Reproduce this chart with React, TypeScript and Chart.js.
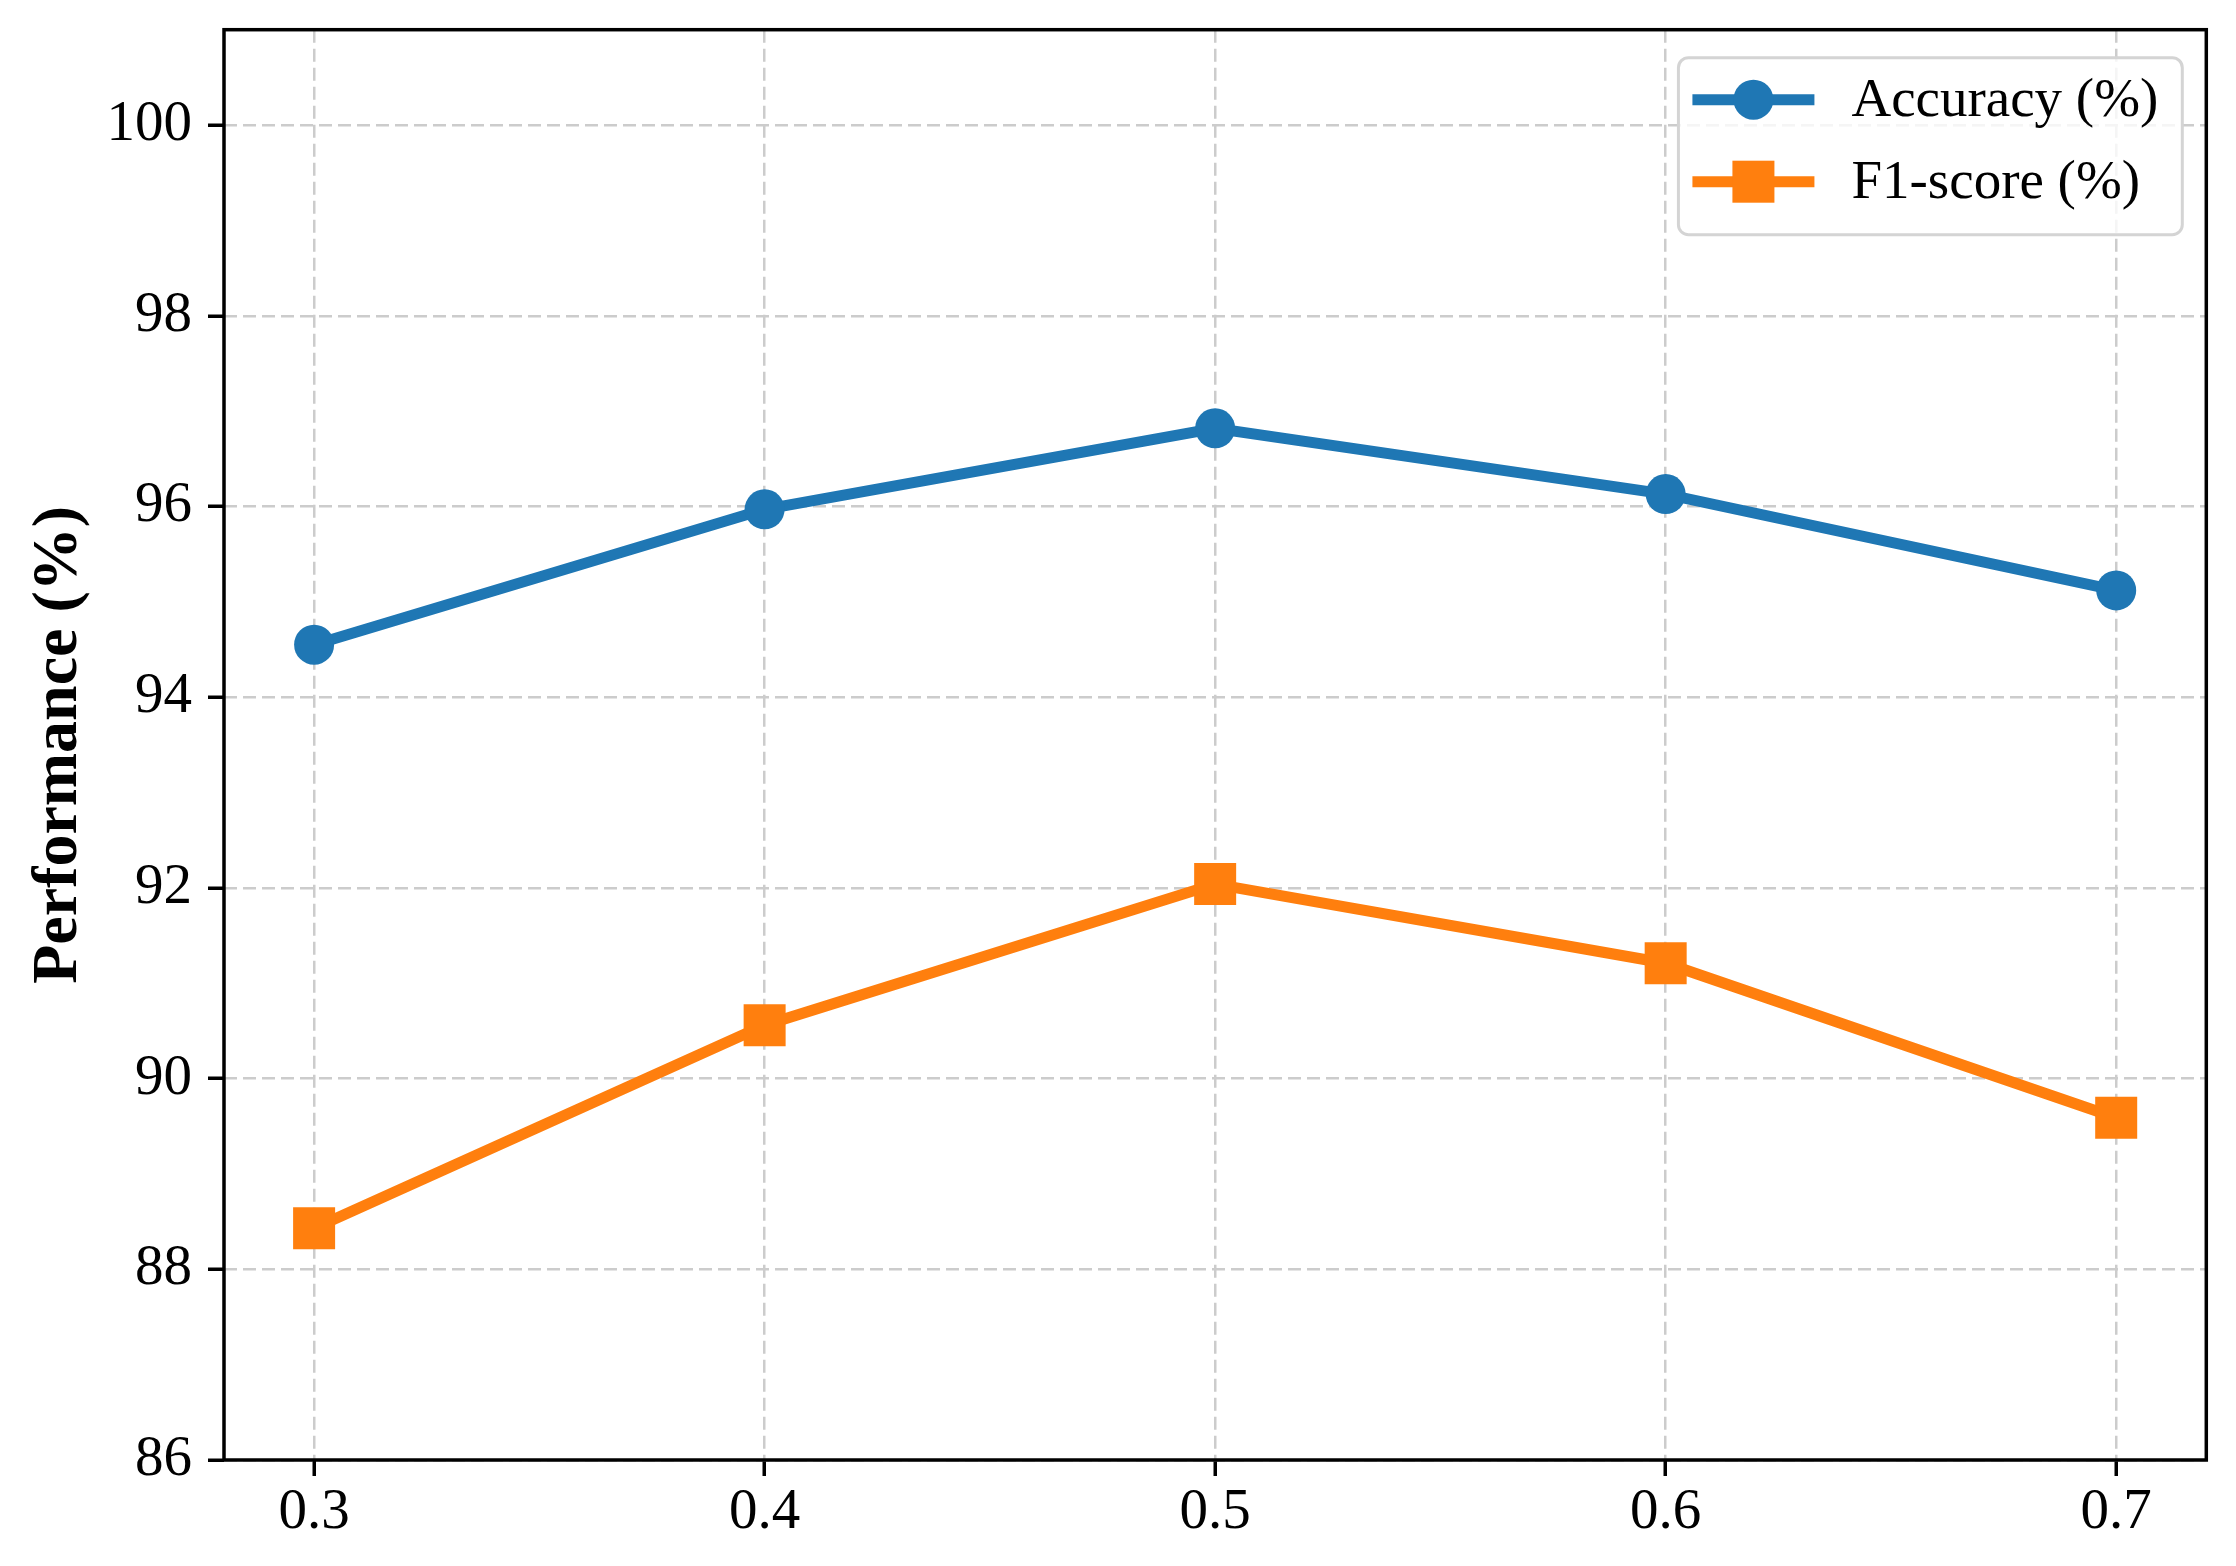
import React, { useEffect, useRef } from "react";
import { Chart, registerables } from "chart.js";

Chart.register(...registerables);

// ---- data ----
const thresholds = [0.3, 0.4, 0.5, 0.6, 0.7];
const accuracy = [94.55, 95.97, 96.82, 96.13, 95.12];
const f1Score = [88.43, 90.56, 92.04, 91.21, 89.59];
const yTickValues = [86, 88, 90, 92, 94, 96, 98, 100];
const seriesLabels = ["Accuracy (%)", "F1-score (%)"];
const yTitle = "Performance (%)";

// ---- style ----
const W = 2236;
const H = 1566;
const FONT = '"Liberation Serif", "Times New Roman", Times, serif';
const BLUE = "#1f77b4";
const ORANGE = "#ff7f0e";

const framePlugin = {
  id: "frame",
  afterDatasetsDraw(chart: any) {
    const { ctx, chartArea: a } = chart;
    ctx.save();
    ctx.strokeStyle = "#000";
    ctx.lineWidth = 3.5;
    ctx.strokeRect(a.left, a.top, a.right - a.left, a.bottom - a.top);
    ctx.restore();
  },
};

const legendPlugin = {
  id: "insideLegend",
  afterDraw(chart: any) {
    const { ctx, chartArea: a } = chart;
    const fontSize = 55;
    ctx.save();
    ctx.font = `${fontSize}px ${FONT}`;
    const items = chart.data.datasets.map((ds: any) => ({
      label: ds.label,
      color: ds.borderColor,
      style: ds.pointStyle,
    }));
    const maxW = Math.max(...items.map((it: any) => ctx.measureText(it.label).width));
    const padL = 14;
    const handleLen = 122;
    const gap = 37;
    const padR = 24;
    const boxW = padL + handleLen + gap + maxW + padR;
    const boxRight = a.right - 24;
    const boxLeft = boxRight - boxW;
    const boxTop = a.top + 28;
    const boxH = 177;
    const rowH = 82;

    ctx.beginPath();
    (ctx as any).roundRect(boxLeft, boxTop, boxW, boxH, 10);
    ctx.fillStyle = "rgba(255,255,255,0.8)";
    ctx.fill();
    ctx.strokeStyle = "#d4d4d4";
    ctx.lineWidth = 3;
    ctx.stroke();

    items.forEach((it: any, i: number) => {
      const cy = boxTop + 42 + i * rowH;
      const x0 = boxLeft + padL;
      const x1 = x0 + handleLen;
      const cx = (x0 + x1) / 2;
      ctx.strokeStyle = it.color;
      ctx.lineWidth = 11;
      ctx.beginPath();
      ctx.moveTo(x0, cy);
      ctx.lineTo(x1, cy);
      ctx.stroke();
      ctx.fillStyle = it.color;
      if (it.style === "rect") {
        const half = 21;
        ctx.fillRect(cx - half, cy - half, 2 * half, 2 * half);
      } else {
        ctx.beginPath();
        ctx.arc(cx, cy, 20, 0, Math.PI * 2);
        ctx.fill();
      }
      ctx.fillStyle = "#000";
      ctx.textAlign = "left";
      ctx.textBaseline = "middle";
      ctx.fillText(it.label, x1 + gap, cy + 2);
    });
    ctx.restore();
  },
};

function zeroPadding(scale: any) {
  scale.paddingTop = 0;
  scale.paddingBottom = 0;
  scale.paddingLeft = 0;
  scale.paddingRight = 0;
}

export default function App() {
  const canvasRef = useRef<HTMLCanvasElement | null>(null);

  useEffect(() => {
    const canvas = canvasRef.current;
    if (!canvas) return;
    const chart = new Chart(canvas, {
      type: "line",
      data: {
        datasets: [
          {
            label: seriesLabels[0],
            data: thresholds.map((x, i) => ({ x, y: accuracy[i] })),
            borderColor: BLUE,
            backgroundColor: BLUE,
            borderWidth: 11,
            pointStyle: "circle",
            pointRadius: 20,
            pointBorderWidth: 0,
            pointBackgroundColor: BLUE,
            fill: false,
            tension: 0,
          },
          {
            label: seriesLabels[1],
            data: thresholds.map((x, i) => ({ x, y: f1Score[i] })),
            borderColor: ORANGE,
            backgroundColor: ORANGE,
            borderWidth: 11,
            pointStyle: "rect",
            pointRadius: 29.7,
            pointBorderWidth: 0,
            pointBackgroundColor: ORANGE,
            fill: false,
            tension: 0,
          },
        ],
      },
      options: {
        animation: false,
        responsive: false,
        devicePixelRatio: 1,
        layout: { padding: { left: 0, top: 25, right: 24, bottom: 0 } },
        plugins: {
          legend: { display: false },
          tooltip: { enabled: false },
        },
        scales: {
          x: {
            type: "linear",
            min: 0.28,
            max: 0.72,
            afterBuildTicks: (scale: any) => {
              scale.ticks = thresholds.map((v) => ({ value: v }));
            },
            afterFit: (scale: any) => {
              scale.height = 106;
              zeroPadding(scale);
            },
            ticks: {
              autoSkip: false,
              maxRotation: 0,
              color: "#000",
              padding: 3,
              font: { family: FONT, size: 57 },
              callback: (v: any) => Number(v).toFixed(1),
            },
            grid: {
              color: "#cccccc",
              lineWidth: 2.5,
              drawTicks: true,
              tickLength: 16,
              tickWidth: 3.5,
              tickColor: "#000",
              tickBorderDash: [],
            },
            border: { display: false, dash: [13, 6] },
          },
          y: {
            type: "linear",
            min: 86,
            max: 101,
            afterBuildTicks: (scale: any) => {
              scale.ticks = yTickValues.map((v) => ({ value: v }));
            },
            afterFit: (scale: any) => {
              scale.width = 224;
              zeroPadding(scale);
            },
            ticks: {
              color: "#000",
              padding: 16,
              font: { family: FONT, size: 57 },
              callback: (v: any) => String(v),
            },
            grid: {
              color: "#cccccc",
              lineWidth: 2.5,
              drawTicks: true,
              tickLength: 16,
              tickWidth: 3.5,
              tickColor: "#000",
              tickBorderDash: [],
            },
            border: { display: false, dash: [13, 6] },
            title: {
              display: true,
              text: yTitle,
              color: "#000",
              font: { family: FONT, size: 64, weight: "bold" },
              padding: { top: 21, bottom: 0 },
            },
          },
        },
      },
      plugins: [framePlugin, legendPlugin],
    } as any);
    return () => chart.destroy();
  }, []);

  return (
    <div style={{ position: "fixed", left: 0, top: 0, width: W, height: H, background: "#fff" }}>
      <canvas ref={canvasRef} width={W} height={H} style={{ width: W, height: H, display: "block" }} />
    </div>
  );
}
